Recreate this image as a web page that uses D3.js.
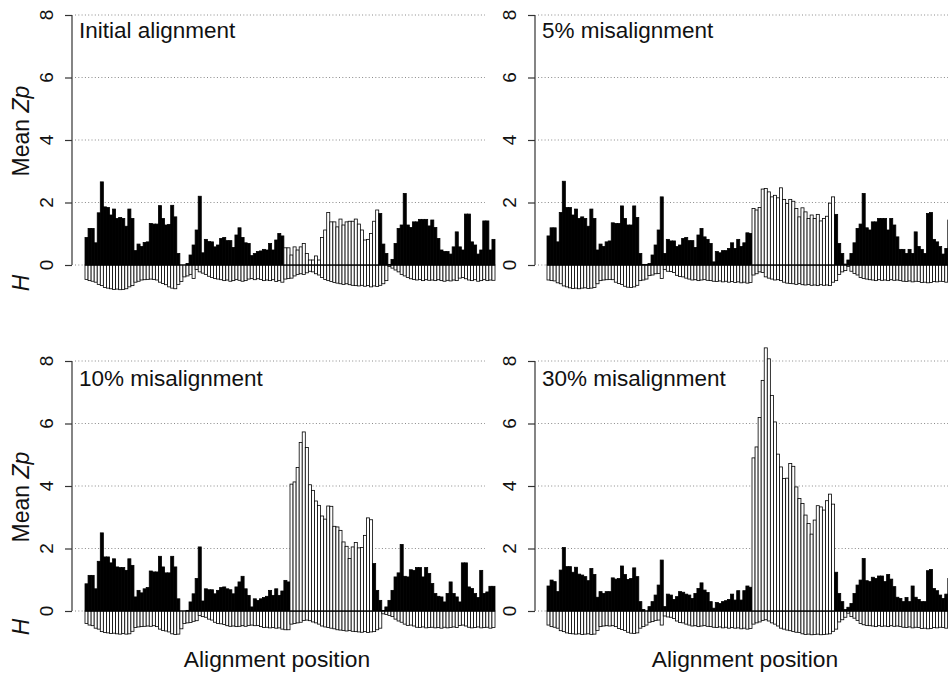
<!DOCTYPE html>
<html>
<head>
<meta charset="utf-8">
<script src="https://cdn.jsdelivr.net/npm/d3@7"></script>
<style>
  body { margin: 0; background: #fff; }
  text { font-family: "Liberation Sans", Arial, Helvetica, sans-serif; fill: #111; }
</style>
</head>
<body>
<svg id="chart" width="948" height="674"></svg>
<script>
// alignment columns (x categories)
var positions = d3.range(1, 135);
var yTicks = [0, 2, 4, 6, 8];
var panelTitles = ["Initial alignment", "5% misalignment", "10% misalignment", "30% misalignment"];

// mean Zp per column
var zpInitial = [
  0.88, 1.17, 1.17, 0.71, 1.67, 2.66, 1.86, 1.84, 1.6, 1.79,
  1.49, 1.52, 1.49, 1.24, 1.79, 1.49, 0.46, 0.67, 0.59, 0.72,
  0.74, 1.33, 1.31, 1.31, 1.9, 1.49, 1.28, 1.3, 1.91, 1.54,
  0.37, 0, 0, 0.05, 0.32, 0.64, 1.12, 2.2, 0.39, 0.82,
  0.75, 0.74, 0.58, 0.64, 0.85, 0.88, 0.78, 0.78, 0.56, 0.96,
  1.19, 0.88, 0.71, 0.69, 0.3, 0.37, 0.43, 0.45, 0.5, 0.48,
  0.69, 0.48, 0.8, 1.01, 0.93,
  0.55, 0.55, 0.32, 0.58, 0.48, 0.58, 0.69, 0.37, 0.16, 0.16,
  0.29, 0.16, 0.88, 1.12, 1.68, 1.38, 1.38, 1.22, 1.47, 1.28,
  1.38, 1.4, 1.4, 1.47, 1.31, 1.12, 0.8, 0.82, 1.01, 1.4,
  1.76,
  1.65, 0.67, 0.37, 0.02, 0.18, 0.69, 1.17, 1.28, 2.29, 1.28,
  1.2, 1.38, 1.38, 1.46, 1.46, 1.46, 1.25, 1.44, 1.2, 0.85,
  0.48, 0.43, 0.43, 0.35, 0.58, 1.06, 0.58, 0.48, 1.63, 1.63,
  0.74, 0.64, 0.35, 0.48, 1.41, 1.41, 0.48, 0.82
];
var zp5 = [
  0.93, 1.19, 1.19, 0.74, 1.68, 2.68, 1.84, 1.84, 1.6, 1.79,
  1.49, 1.54, 1.49, 1.24, 1.79, 1.49, 0.48, 0.67, 0.59, 0.74,
  0.77, 1.35, 1.33, 1.33, 1.89, 1.49, 1.28, 1.28, 1.89, 1.52,
  0.37, 0.02, 0.02, 0.05, 0.32, 0.64, 1.12, 2.18, 0.37, 0.82,
  0.77, 0.77, 0.59, 0.64, 0.85, 0.88, 0.78, 0.78, 0.56, 0.96,
  1.17, 0.9, 0.82, 0.69, 0.1, 0.43, 0.39, 0.46, 0.46, 0.53,
  0.71, 0.53, 0.82, 0.59, 0.71, 1.03, 1.01,
  1.81, 1.76, 1.84, 2.43, 2.45, 2.34, 2.18, 2.23, 2.15, 2.47,
  2.1, 1.97, 2.1, 2.04, 1.81, 1.54, 1.83, 1.7, 1.49, 1.6,
  1.49, 1.62, 1.41, 1.49, 1.56, 1.98, 2.18,
  1.62, 0.69, 0.37, 0.03, 0.16, 0.37, 0.71, 1.17, 1.31, 2.29,
  1.19, 1.12, 1.38, 1.38, 1.49, 1.49, 1.49, 1.12, 1.49, 1.28,
  0.9, 0.5, 0.5, 0.37, 0.5, 0.37, 1.06, 0.59, 0.5, 0.37,
  1.65, 1.68, 0.82, 0.74, 0.59, 0.35, 0.53, 1.44, 0.82, 0.48
];
var zp10 = [
  0.87, 1.14, 1.14, 0.71, 1.59, 2.5, 1.73, 1.73, 1.54, 1.67,
  1.41, 1.39, 1.39, 1.3, 1.67, 1.46, 0.45, 0.66, 0.58, 0.71,
  0.75, 1.28, 1.25, 1.25, 1.75, 1.41, 1.22, 1.22, 1.75, 1.41,
  0.39, 0, 0, 0.02, 0.29, 0.55, 1.04, 2.05, 0.32, 0.71,
  0.68, 0.68, 0.55, 0.66, 0.75, 0.77, 0.71, 0.68, 0.55, 0.77,
  0.93, 1.11, 0.71, 0.5, 0.13, 0.39, 0.34, 0.39, 0.43, 0.47,
  0.66, 0.5, 0.71, 0.5, 0.64, 0.98, 0.93,
  4.06, 4.13, 4.59, 5.39, 5.73, 5.23, 4.04, 3.86, 3.52, 3.38,
  3.04, 2.94, 3.36, 3.35, 2.71, 2.69, 2.58, 2.21, 2.07, 1.68,
  2.05, 2.19, 2.02, 2.03, 2.42, 2.98, 2.92,
  1.52, 0.66, 0.34, 0.02, 0.13, 0.34, 0.66, 1.09, 1.22, 2.13,
  1.11, 1.09, 1.32, 1.3, 1.39, 1.39, 1.09, 1.39, 1.2, 0.88,
  0.56, 0.47, 0.45, 0.29, 0.56, 0.93, 0.56, 0.45, 0.29, 1.54,
  1.54, 0.77, 0.72, 0.56, 0.43, 1.3, 0.56, 0.61, 0.79, 0.79
];
var zp30 = [
  0.8, 0.99, 0.94, 0.62, 1.31, 2.03, 1.42, 1.42, 1.24, 1.4,
  1.18, 1.15, 1.1, 0.97, 1.36, 1.17, 0.44, 0.62, 0.56, 0.62,
  0.62, 1.06, 1.02, 1.04, 1.44, 1.17, 1.01, 1.04, 1.38, 1.1,
  0.3, 0.05, 0, 0.14, 0.3, 0.51, 0.83, 1.63, 0.14, 0.54,
  0.51, 0.37, 0.46, 0.62, 0.6, 0.54, 0.51, 0.4, 0.56, 0.72,
  0.9, 0.67, 0.59, 0.3, 0.09, 0.27, 0.24, 0.3, 0.33, 0.37,
  0.54, 0.35, 0.65, 0.35, 0.65, 0.8, 0.76,
  4.9, 5.25, 6.19, 7.38, 8.42, 8.07, 6.9, 6.05, 5.02, 4.61,
  4.24, 4.25, 4.72, 4.63, 3.97, 3.6, 3.44, 3.07, 2.8, 2.46,
  2.91, 3.37, 3.33, 3.23, 3.53, 3.74, 3.42,
  1.24, 0.56, 0.3, 0.05, 0.12, 0.24, 0.56, 0.83, 0.99, 1.68,
  0.97, 0.94, 1.08, 1.04, 1.12, 1.12, 0.94, 1.17, 1.02, 0.78,
  0.44, 0.4, 0.3, 0.43, 0.3, 0.8, 0.44, 0.37, 0.3, 0.3,
  1.29, 1.33, 0.72, 0.65, 0.51, 0.4, 0.54, 1.04, 0.48, 0.55
];

// H per column (drawn downwards)
var hInitial = [
  -0.46, -0.5, -0.52, -0.55, -0.62, -0.66, -0.72, -0.74, -0.76, -0.78,
  -0.77, -0.79, -0.78, -0.76, -0.7, -0.66, -0.55, -0.52, -0.48, -0.47,
  -0.46, -0.45, -0.46, -0.48, -0.55, -0.59, -0.63, -0.7, -0.74, -0.76,
  -0.62, -0.53, -0.38, -0.35, -0.3, -0.43, -0.14, -0.22, -0.26, -0.3,
  -0.36, -0.4, -0.43, -0.45, -0.47, -0.5, -0.48, -0.52, -0.5, -0.46,
  -0.49, -0.52, -0.5, -0.45, -0.43, -0.47, -0.44, -0.46, -0.5, -0.48,
  -0.5, -0.47, -0.53, -0.5, -0.55, -0.45, -0.43, -0.42, -0.35, -0.3,
  -0.28, -0.3, -0.25, -0.2, -0.22, -0.28, -0.32, -0.4, -0.46, -0.5,
  -0.53, -0.56, -0.58, -0.6, -0.62, -0.6, -0.63, -0.65, -0.66, -0.67,
  -0.65, -0.68, -0.66, -0.7, -0.67, -0.69, -0.65, -0.6, -0.5, -0.05,
  -0.1, -0.16, -0.22, -0.3, -0.35, -0.4, -0.44, -0.46, -0.48, -0.46,
  -0.5, -0.47, -0.49, -0.48, -0.5, -0.47, -0.5, -0.52, -0.49, -0.51,
  -0.48, -0.5, -0.42, -0.4, -0.44, -0.48, -0.5, -0.47, -0.52, -0.5,
  -0.46, -0.5, -0.48, -0.49
];
var h5 = [
  -0.48, -0.5, -0.51, -0.57, -0.6, -0.67, -0.7, -0.73, -0.75, -0.74,
  -0.76, -0.74, -0.73, -0.75, -0.74, -0.72, -0.6, -0.5, -0.48, -0.47,
  -0.46, -0.47, -0.55, -0.59, -0.62, -0.68, -0.71, -0.72, -0.7, -0.65,
  -0.5, -0.48, -0.45, -0.34, -0.32, -0.28, -0.27, -0.43, -0.14, -0.2,
  -0.21, -0.24, -0.33, -0.37, -0.38, -0.42, -0.45, -0.48, -0.47, -0.5,
  -0.48, -0.46, -0.49, -0.5, -0.52, -0.53, -0.51, -0.54, -0.52, -0.55,
  -0.53, -0.56, -0.54, -0.57, -0.55, -0.58, -0.56, -0.32, -0.28, -0.22,
  -0.24, -0.38, -0.42, -0.45, -0.48, -0.47, -0.5, -0.55, -0.58, -0.59,
  -0.6, -0.62, -0.59, -0.63, -0.64, -0.62, -0.65, -0.64, -0.66, -0.63,
  -0.65, -0.64, -0.66, -0.55, -0.5, -0.3, -0.22, -0.18, -0.05, -0.2,
  -0.27, -0.32, -0.4, -0.43, -0.45, -0.47, -0.48, -0.5, -0.47, -0.49,
  -0.48, -0.5, -0.47, -0.49, -0.48, -0.5, -0.52, -0.53, -0.51, -0.54,
  -0.52, -0.53, -0.56, -0.55, -0.57, -0.56, -0.53, -0.54, -0.52, -0.53,
  -0.55, -0.52, -0.54, -0.53
];
var h10 = [
  -0.4, -0.45, -0.47, -0.55, -0.58, -0.66, -0.69, -0.7, -0.72, -0.71,
  -0.73, -0.74, -0.72, -0.74, -0.73, -0.65, -0.53, -0.51, -0.5, -0.49,
  -0.48, -0.49, -0.47, -0.5, -0.58, -0.62, -0.64, -0.67, -0.73, -0.75,
  -0.74, -0.57, -0.4, -0.38, -0.37, -0.33, -0.31, -0.14, -0.18, -0.2,
  -0.26, -0.29, -0.36, -0.4, -0.41, -0.43, -0.47, -0.49, -0.48, -0.5,
  -0.49, -0.47, -0.49, -0.46, -0.45, -0.47, -0.46, -0.5, -0.53, -0.52,
  -0.54, -0.53, -0.55, -0.54, -0.58, -0.6, -0.6, -0.42, -0.4, -0.38,
  -0.36, -0.3, -0.29, -0.31, -0.35, -0.38, -0.42, -0.48, -0.51, -0.53,
  -0.55, -0.57, -0.6, -0.61, -0.62, -0.64, -0.62, -0.65, -0.66, -0.67,
  -0.68, -0.66, -0.69, -0.67, -0.66, -0.6, -0.55, -0.09, -0.11, -0.14,
  -0.18, -0.26, -0.32, -0.36, -0.42, -0.46, -0.45, -0.48, -0.52, -0.53,
  -0.51, -0.54, -0.53, -0.52, -0.54, -0.53, -0.55, -0.52, -0.54, -0.53,
  -0.51, -0.53, -0.46, -0.45, -0.48, -0.52, -0.54, -0.53, -0.51, -0.54,
  -0.53, -0.52, -0.55, -0.53
];
var h30 = [
  -0.45, -0.5, -0.52, -0.55, -0.63, -0.66, -0.7, -0.72, -0.73, -0.74,
  -0.73, -0.75, -0.74, -0.73, -0.75, -0.74, -0.62, -0.5, -0.48, -0.47,
  -0.48, -0.47, -0.5, -0.56, -0.59, -0.62, -0.68, -0.71, -0.72, -0.7,
  -0.55, -0.5, -0.45, -0.36, -0.34, -0.3, -0.29, -0.45, -0.16, -0.19,
  -0.2, -0.24, -0.32, -0.37, -0.38, -0.42, -0.45, -0.48, -0.47, -0.5,
  -0.48, -0.46, -0.49, -0.5, -0.52, -0.53, -0.51, -0.54, -0.52, -0.55,
  -0.53, -0.55, -0.54, -0.57, -0.55, -0.58, -0.56, -0.42, -0.38, -0.35,
  -0.3, -0.28, -0.32, -0.38, -0.42, -0.48, -0.55, -0.58, -0.61, -0.63,
  -0.66, -0.68, -0.69, -0.73, -0.75, -0.74, -0.76, -0.75, -0.74, -0.76,
  -0.75, -0.74, -0.73, -0.65, -0.58, -0.35, -0.28, -0.2, -0.07, -0.18,
  -0.23, -0.3, -0.4, -0.44, -0.46, -0.47, -0.48, -0.5, -0.47, -0.49,
  -0.48, -0.5, -0.47, -0.49, -0.48, -0.5, -0.52, -0.53, -0.51, -0.54,
  -0.52, -0.53, -0.56, -0.55, -0.57, -0.56, -0.53, -0.54, -0.52, -0.53,
  -0.55, -0.52, -0.54, -0.53
];

// first and last misaligned column (open bars), 0-based
var misInitial = [65, 95];
var mis5 = [67, 93];
var mis10 = [67, 93];
var mis30 = [67, 93];

var panels = [
  { title: panelTitles[0], zp: zpInitial, h: hInitial, mis: misInitial, col: 0, row: 0 },
  { title: panelTitles[1], zp: zp5, h: h5, mis: mis5, col: 1, row: 0 },
  { title: panelTitles[2], zp: zp10, h: h10, mis: mis10, col: 0, row: 1 },
  { title: panelTitles[3], zp: zp30, h: h30, mis: mis30, col: 1, row: 1 }
];

var axisX = [72, 535],
    barX = [85, 547],
    barSpan = 410,
    zeroY = [265, 611],
    plotH = 250,
    titleY = [38, 386],
    meanZpY = [131, 497],
    hLabY = [283, 627],
    xTitleX = [277, 745];

var svg = d3.select("#chart");
svg.append("rect").attr("width", 948).attr("height", 674).attr("fill", "#fff");

panels.forEach(function(p) {
  var g = svg.append("g");
  var x = d3.scaleBand().domain(positions).range([barX[p.col], barX[p.col] + barSpan]).padding(0);
  var y = d3.scaleLinear().domain([0, 8]).range([zeroY[p.row], zeroY[p.row] - plotH]);
  var gridEnd = p.col === 0 ? 485 : 960;

  // dotted grid
  g.selectAll(".grid").data(yTicks).enter().append("line")
    .attr("x1", axisX[p.col] + 3).attr("x2", gridEnd)
    .attr("y1", function(d) { return y(d); }).attr("y2", function(d) { return y(d); })
    .attr("stroke", "#8a8a8a").attr("stroke-width", 1)
    .attr("stroke-dasharray", "1,2.3");

  function isOpen(i) { return i >= p.mis[0] && i <= p.mis[1]; }

  // H bars below zero
  g.selectAll(".hbar").data(p.h).enter().append("rect")
    .attr("x", function(d, i) { return x(positions[i]); })
    .attr("width", x.bandwidth())
    .attr("y", y(0))
    .attr("height", function(d) { return y(d) - y(0); })
    .attr("fill", "#fff").attr("stroke", "#000").attr("stroke-width", 0.8);

  // mean Zp bars
  g.selectAll(".zbar").data(p.zp).enter().append("rect")
    .attr("x", function(d, i) { return x(positions[i]); })
    .attr("width", x.bandwidth())
    .attr("y", function(d) { return y(d); })
    .attr("height", function(d) { return y(0) - y(d); })
    .attr("fill", function(d, i) { return isOpen(i) ? "#fff" : "#000"; })
    .attr("stroke", "#000").attr("stroke-width", 0.8);

  // zero line
  g.append("line")
    .attr("x1", barX[p.col]).attr("x2", barX[p.col] + barSpan)
    .attr("y1", y(0)).attr("y2", y(0))
    .attr("stroke", "#000").attr("stroke-width", 1);

  // y axis
  var ax = g.append("g").attr("transform", "translate(" + axisX[p.col] + ",0)")
    .call(d3.axisLeft(y).tickValues(yTicks).tickSize(7).tickFormat(""));
  ax.select(".domain").attr("stroke", "#333").attr("stroke-width", 1.2).attr("d", "M0," + y(0) + "V" + y(8));
  ax.selectAll(".tick line").attr("stroke", "#333").attr("stroke-width", 1.2);

  g.selectAll(".tlab").data(yTicks).enter().append("text")
    .attr("transform", function(d) { return "translate(" + (axisX[p.col] - 19) + "," + y(d) + ") rotate(-90)"; })
    .attr("text-anchor", "middle")
    .style("font-size", "19px")
    .text(function(d) { return d; });

  // panel title
  g.append("text")
    .attr("x", axisX[p.col] + 7).attr("y", titleY[p.row])
    .style("font-size", "22.5px")
    .text(p.title);

  if (p.col === 0) {
    var t = g.append("text")
      .attr("transform", "translate(29," + meanZpY[p.row] + ") rotate(-90)")
      .attr("text-anchor", "middle")
      .style("font-size", "23px");
    t.append("tspan").text("Mean ");
    t.append("tspan").style("font-style", "italic").text("Zp");
    g.append("text")
      .attr("transform", "translate(29," + hLabY[p.row] + ") rotate(-90)")
      .attr("text-anchor", "middle")
      .style("font-size", "23px").style("font-style", "italic")
      .text("H");
  }

  if (p.row === 1) {
    g.append("text")
      .attr("x", xTitleX[p.col]).attr("y", 667)
      .attr("text-anchor", "middle")
      .style("font-size", "22.8px")
      .text("Alignment position");
  }
});
</script>
</body>
</html>
